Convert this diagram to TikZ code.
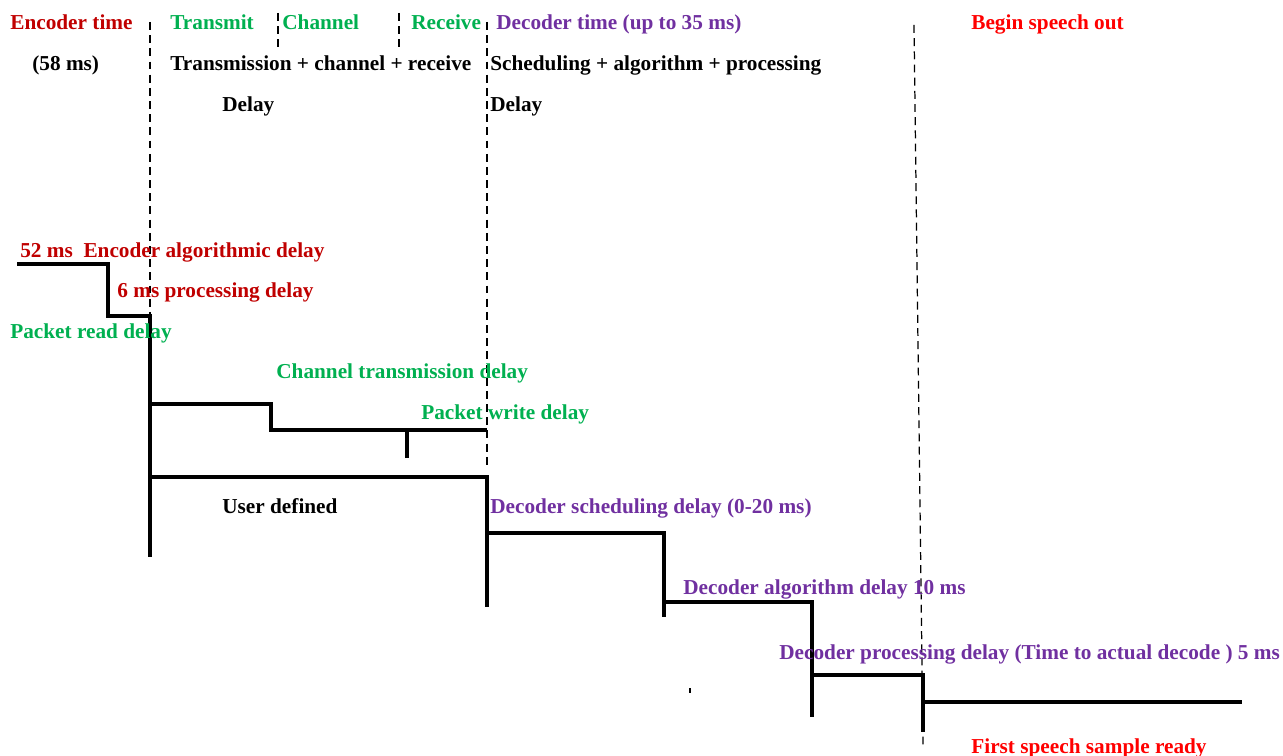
\documentclass[tikz,border=0pt]{standalone}
\usepackage{fontspec}
\setmainfont{Liberation Serif}
\definecolor{encred}{RGB}{192,0,0}
\definecolor{txgreen}{RGB}{0,176,80}
\definecolor{decpurple}{RGB}{112,48,160}
\definecolor{spred}{RGB}{255,0,0}

\begin{document}
\begin{tikzpicture}[x=0.02cm,y=-0.02cm,
  lbl/.style={anchor=base west,inner sep=0pt,font=\bfseries\fontsize{12.1}{14}\selectfont},
  tmark/.style={line width=0.7pt,dash pattern=on 4.5pt off 3pt},
  stair/.style={line width=2.3pt}]
\useasboundingbox (0,0) rectangle (1283,756);
% dashed time marks
\draw [tmark] (150,22)--(150,316);
\draw [tmark] (278,13)--(278,47);
\draw [tmark] (399,13)--(399,47);
\draw [tmark] (487,22)--(487,470);
\draw [tmark] (914,25)--(923,746);
\draw [line width=0.6pt] (690,688)--(690,693);
% delay staircase
\draw [stair] (17,264)--(108,264)--(108,316)--(150,316)--(150,557);
\draw [stair] (150,404)--(271,404)--(271,430)--(487,430);
\draw [stair] (407,458)--(407,428);
\draw [stair] (150,477)--(487,477)--(487,607);
\draw [stair] (487,533)--(664,533)--(664,617);
\draw [stair] (664,602)--(812,602)--(812,717);
\draw [stair] (812,675)--(923,675)--(923,732);
\draw [stair] (923,702)--(1242,702);
% header
\node [lbl,encred] (enctime) at (10,30) {Encoder time};
\node [lbl] (encms) at (32,71) {(58 ms)};
\node [lbl,txgreen] (transmit) at (170,30) {Transmit};
\node [lbl,txgreen] (channel) at (282,30) {Channel};
\node [lbl,txgreen] (receive) at (411,30) {Receive};
\node [lbl,decpurple] (dectime) at (496,30) {Decoder time (up to 35 ms)};
\node [lbl,spred] (begin) at (971,30) {Begin speech out};
\node [lbl] (txsum) at (170,71) {Transmission + channel + receive};
\node [lbl] (txdelay) at (222,112) {Delay};
\node [lbl] (decsum) at (490,71) {Scheduling + algorithm + processing};
\node [lbl] (decdelay) at (490,112) {Delay};
% step labels
\node [lbl,encred] (encalg) at (20,258) {52 ms\ \ Encoder algorithmic delay};
\node [lbl,encred] (encproc) at (117,298) {6 ms processing delay};
\node [lbl,txgreen] (pread) at (10,338) {Packet read delay};
\node [lbl,txgreen] (chtx) at (276,378) {Channel transmission delay};
\node [lbl,txgreen] (pwrite) at (421,419) {Packet write delay};
\node [lbl] (user) at (222,513) {User defined};
\node [lbl,decpurple] (decsched) at (490,513) {Decoder scheduling delay (0-20 ms)};
\node [lbl,decpurple] (decalg) at (683,594) {Decoder algorithm delay 10 ms};
\node [lbl,decpurple] (decproc) at (779,659) {Decoder processing delay (Time to actual decode ) 5 ms};
\node [lbl,spred] (first) at (971,753) {First speech sample ready};
\end{tikzpicture}
\end{document}
